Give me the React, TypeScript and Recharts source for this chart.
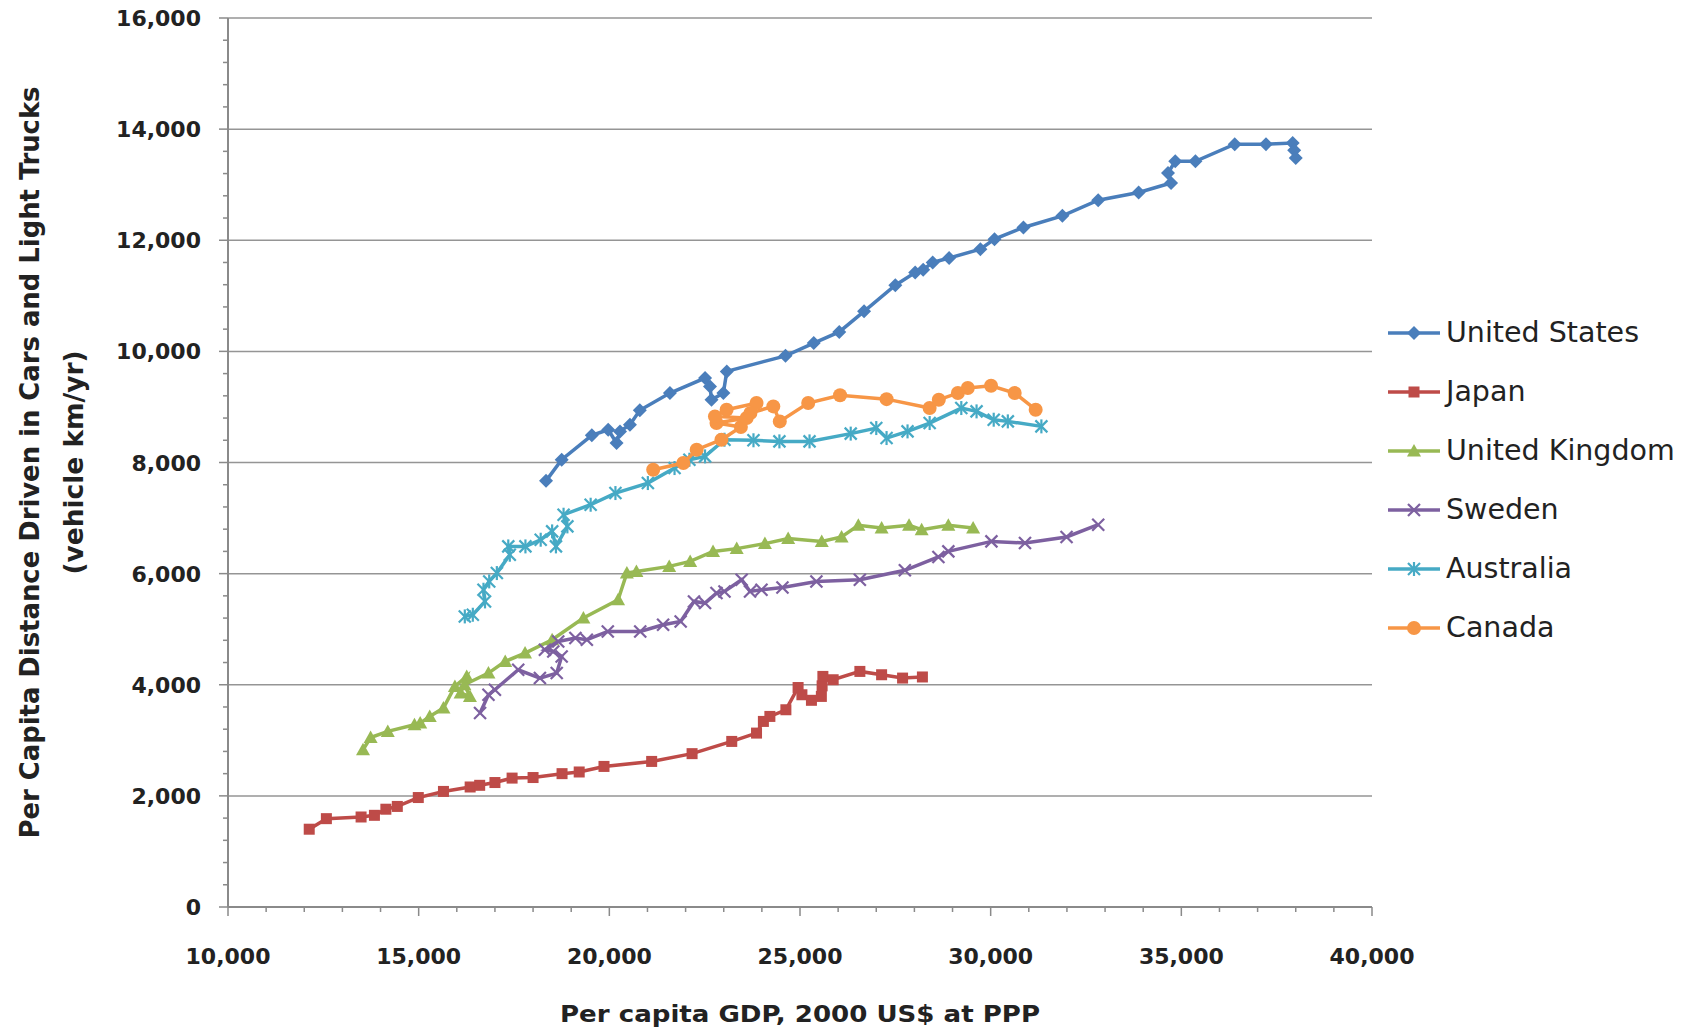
import { ScatterChart, Scatter, XAxis, YAxis, CartesianGrid, Legend } from "recharts";

// [per capita GDP (2000 US$ PPP), vehicle km per capita per year]
const unitedStates: [number, number][] = [
  [18340, 7670], [18750, 8050], [19540, 8490], [19970, 8590], [20190, 8350], [20280, 8560],
  [20540, 8680], [20800, 8940], [21590, 9250], [22510, 9520], [22640, 9370], [22680, 9130],
  [22990, 9250], [23080, 9640], [24620, 9920], [25360, 10150], [26030, 10350], [26680, 10720],
  [27500, 11190], [28020, 11420], [28230, 11470], [28480, 11600], [28910, 11680], [29730, 11840],
  [30100, 12020], [30860, 12230], [31880, 12440], [32820, 12720], [33880, 12860], [34730, 13030],
  [34650, 13210], [34840, 13420], [35370, 13420], [36400, 13730], [37220, 13730], [37920, 13750],
  [37960, 13620], [38000, 13480],
];

const japan: [number, number][] = [
  [12130, 1400], [12580, 1590], [13490, 1620], [13840, 1650], [14140, 1760], [14440, 1810],
  [14990, 1970], [15650, 2080], [16350, 2160], [16600, 2190], [17000, 2240], [17450, 2320],
  [18000, 2330], [18760, 2400], [19210, 2430], [19860, 2530], [21110, 2620], [22170, 2760],
  [23210, 2980], [23860, 3130], [24040, 3340], [24210, 3430], [24630, 3550], [24950, 3950],
  [25050, 3820], [25300, 3720], [25560, 3790], [25580, 3980], [25600, 4150], [25870, 4090],
  [26570, 4240], [27140, 4180], [27690, 4120], [28210, 4140],
];

const unitedKingdom: [number, number][] = [
  [13540, 2830], [13740, 3050], [14190, 3160], [14890, 3280], [15040, 3310], [15290, 3430],
  [15650, 3580], [15950, 3970], [16260, 4150], [16100, 3850], [16345, 3790], [16200, 4000],
  [16830, 4210], [17270, 4420], [17790, 4570], [18500, 4810], [19320, 5200], [20230, 5530],
  [20460, 6010], [20710, 6040], [21570, 6130], [22120, 6220], [22720, 6400], [23340, 6450],
  [24080, 6540], [24690, 6630], [25570, 6580], [26090, 6660], [26530, 6870], [27140, 6820],
  [27860, 6870], [28190, 6790], [28890, 6870], [29540, 6820],
];

const sweden: [number, number][] = [
  [16610, 3490], [16830, 3820], [17000, 3910], [17610, 4270], [18180, 4120], [18620, 4210],
  [18750, 4510], [18530, 4600], [18310, 4630], [18660, 4780], [19110, 4840], [19410, 4810],
  [19960, 4960], [20810, 4960], [21410, 5080], [21870, 5140], [22220, 5500], [22510, 5470],
  [22810, 5650], [23020, 5680], [23470, 5890], [23690, 5680], [23990, 5710], [24540, 5750],
  [25430, 5860], [26570, 5890], [27750, 6060], [28630, 6300], [28890, 6400], [30020, 6580],
  [30900, 6550], [31990, 6660], [32820, 6880],
];

const australia: [number, number][] = [
  [16210, 5230], [16420, 5260], [16740, 5500], [16700, 5710], [16850, 5860], [17050, 6010],
  [17390, 6340], [17350, 6490], [17800, 6490], [18200, 6610], [18500, 6760], [18600, 6490],
  [18900, 6850], [18800, 7060], [19510, 7240], [20160, 7450], [21010, 7630], [21710, 7900],
  [22100, 8050], [22510, 8110], [23020, 8410], [23780, 8400], [24460, 8380], [25250, 8380],
  [26330, 8520], [27000, 8620], [27270, 8440], [27820, 8560], [28400, 8710], [29230, 8980],
  [29630, 8920], [30080, 8770], [30450, 8740], [31330, 8650],
];

const canada: [number, number][] = [
  [21150, 7870], [21940, 7990], [22290, 8230], [22940, 8410], [23450, 8640], [22810, 8710],
  [23600, 8800], [22770, 8830], [23075, 8950], [23860, 9070], [23700, 8890], [24300, 9010],
  [24470, 8740], [25215, 9070], [26050, 9210], [27270, 9140], [28400, 8980], [28640, 9130],
  [29140, 9250], [29400, 9340], [30010, 9380], [30630, 9250], [31180, 8950],
];

const xMajorTicks = [10000, 15000, 20000, 25000, 30000, 35000, 40000];
const yMajorTicks = [0, 2000, 4000, 6000, 8000, 10000, 12000, 14000, 16000];
const xMinorStep = 1000;
const yMinorStep = 400;

type MarkerKind = "diamond" | "square" | "triangle" | "x" | "star" | "circle";

const seriesList: { name: string; color: string; marker: MarkerKind; points: [number, number][] }[] = [
  { name: "United States", color: "#4a7ebb", marker: "diamond", points: unitedStates },
  { name: "Japan", color: "#be4b48", marker: "square", points: japan },
  { name: "United Kingdom", color: "#98b954", marker: "triangle", points: unitedKingdom },
  { name: "Sweden", color: "#7d60a0", marker: "x", points: sweden },
  { name: "Australia", color: "#46aac5", marker: "star", points: australia },
  { name: "Canada", color: "#f79646", marker: "circle", points: canada },
];

const fmt = (v: number) => v.toLocaleString("en-US");

function Marker({ kind, color, cx, cy }: { kind: MarkerKind; color: string; cx: number; cy: number }) {
  switch (kind) {
    case "diamond":
      return <polygon points={`${cx},${cy - 7} ${cx + 7},${cy} ${cx},${cy + 7} ${cx - 7},${cy}`} fill={color} />;
    case "square":
      return <rect x={cx - 5.5} y={cy - 5.5} width={11} height={11} fill={color} />;
    case "triangle":
      return <polygon points={`${cx},${cy - 7} ${cx + 7},${cy + 5.5} ${cx - 7},${cy + 5.5}`} fill={color} />;
    case "x":
      return (
        <g stroke={color} strokeWidth={2.2}>
          <line x1={cx - 6} y1={cy - 6} x2={cx + 6} y2={cy + 6} />
          <line x1={cx - 6} y1={cy + 6} x2={cx + 6} y2={cy - 6} />
        </g>
      );
    case "star":
      return (
        <g stroke={color} strokeWidth={2.2}>
          <line x1={cx - 6} y1={cy - 6} x2={cx + 6} y2={cy + 6} />
          <line x1={cx - 6} y1={cy + 6} x2={cx + 6} y2={cy - 6} />
          <line x1={cx} y1={cy - 7} x2={cx} y2={cy + 7} />
        </g>
      );
    default:
      return <circle cx={cx} cy={cy} r={7} fill={color} />;
  }
}

const makeShape = (kind: MarkerKind, color: string) => (props: any) =>
  <Marker kind={kind} color={color} cx={props.cx} cy={props.cy} />;

const minorTicks = (from: number, to: number, step: number) => {
  const out: number[] = [];
  for (let v = from; v <= to; v += step) out.push(v);
  return out;
};

const XTick = (props: any) => {
  const { x, y, payload } = props;
  const major = xMajorTicks.includes(payload.value);
  return (
    <g>
      <line x1={x} x2={x} y1={y} y2={y + (major ? 9 : 5)} stroke="#8a8a8a" strokeWidth={1.5} />
      {major && (
        <text x={x} y={y + 57} textAnchor="middle" fontFamily="DejaVu Sans" fontWeight="bold" fontSize={22} fill="#222">
          {fmt(payload.value)}
        </text>
      )}
    </g>
  );
};

const YTick = (props: any) => {
  const { x, y, payload } = props;
  const major = yMajorTicks.includes(payload.value);
  return (
    <g>
      <line x1={x - (major ? 9 : 5)} x2={x} y1={y} y2={y} stroke="#8a8a8a" strokeWidth={1.5} />
      {major && (
        <text x={x - 27} y={y + 8} textAnchor="end" fontFamily="DejaVu Sans" fontWeight="bold" fontSize={22} fill="#222">
          {fmt(payload.value)}
        </text>
      )}
    </g>
  );
};

const YTitle = (props: any) => {
  const { viewBox } = props;
  const cy = viewBox.y + viewBox.height / 2;
  const font = { fontFamily: "'Liberation Sans Narrow', 'DejaVu Sans Condensed', sans-serif", fontWeight: "bold" as const, fontSize: 27, fill: "#222" };
  return (
    <g>
      <text x={39} y={cy} transform={`rotate(-90, 39, ${cy})`} textAnchor="middle" textLength={752} lengthAdjust="spacingAndGlyphs" {...font}>
        Per Capita Distance Driven in Cars and Light Trucks
      </text>
      <text x={83} y={cy} transform={`rotate(-90, 83, ${cy})`} textAnchor="middle" textLength={224} lengthAdjust="spacingAndGlyphs" {...font}>
        (vehicle km/yr)
      </text>
    </g>
  );
};

const XTitle = (props: any) => {
  const { viewBox } = props;
  const cx = viewBox.x + viewBox.width / 2;
  return (
    <text x={cx} y={viewBox.y + 115} textAnchor="middle" textLength={480} lengthAdjust="spacingAndGlyphs"
      fontFamily="DejaVu Sans" fontWeight="bold" fontSize={23} fill="#222">
      Per capita GDP, 2000 US$ at PPP
    </text>
  );
};

const LegendContent = () => (
  <div>
    {seriesList.map((s) => (
      <div key={s.name} style={{ display: "flex", alignItems: "center", height: 59 }}>
        <svg width={56} height={20} style={{ marginRight: 2 }}>
          <line x1={0} x2={52} y1={10} y2={10} stroke={s.color} strokeWidth={3.5} />
          <Marker kind={s.marker} color={s.color} cx={26} cy={10} />
        </svg>
        <span style={{ fontFamily: "DejaVu Sans", fontSize: 28.5, color: "#222", whiteSpace: "nowrap" }}>{s.name}</span>
      </div>
    ))}
  </div>
);

export default function App() {
  return (
    <div style={{ position: "absolute", left: 0, top: 0, background: "#fff" }}>
      <ScatterChart width={1694} height={1034} margin={{ top: 18, right: 322, bottom: 67, left: 0 }}>
        <CartesianGrid vertical={false} horizontalValues={yMajorTicks} stroke="#959595" strokeWidth={1.5} />
        <XAxis
          type="number"
          dataKey="x"
          domain={[10000, 40000]}
          ticks={minorTicks(10000, 40000, xMinorStep)}
          interval={0}
          tickSize={0}
          tickMargin={0}
          tickLine={false}
          tick={XTick}
          height={60}
          axisLine={{ stroke: "#8a8a8a", strokeWidth: 2 }}
          label={{ content: XTitle }}
        />
        <YAxis
          type="number"
          dataKey="y"
          domain={[0, 16000]}
          ticks={minorTicks(0, 16000, yMinorStep)}
          interval={0}
          tickSize={0}
          tickMargin={0}
          tickLine={false}
          tick={YTick}
          width={228}
          axisLine={{ stroke: "#8a8a8a", strokeWidth: 2 }}
          label={{ content: YTitle }}
        />
        {seriesList.map((s) => (
          <Scatter
            key={s.name}
            name={s.name}
            data={s.points.map(([x, y]) => ({ x, y }))}
            fill={s.color}
            line={{ stroke: s.color, strokeWidth: 3.5 }}
            shape={makeShape(s.marker, s.color)}
            isAnimationActive={false}
          />
        ))}
        <Legend
          layout="horizontal"
          align="center"
          verticalAlign="middle"
          wrapperStyle={{ left: 1388, top: 303, width: 306 }}
          content={LegendContent}
        />
      </ScatterChart>
    </div>
  );
}
